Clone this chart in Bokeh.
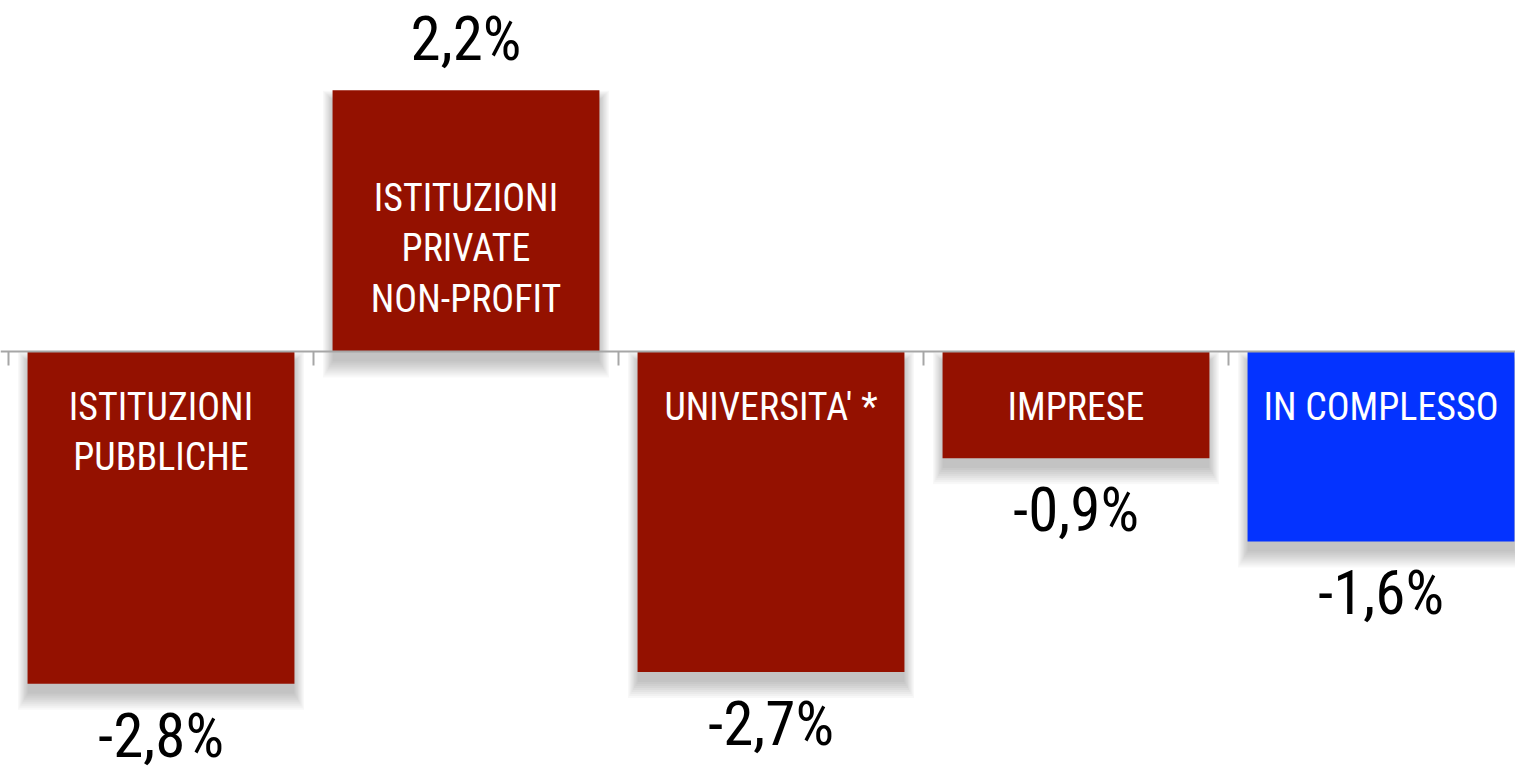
from bokeh.plotting import figure
from bokeh.models import Range1d, ColumnDataSource
from bokeh.core.properties import value
from bokeh.embed import file_html
from bokeh.resources import INLINE

# ---- data ----
categories = ["ISTITUZIONI\nPUBBLICHE", "ISTITUZIONI\nPRIVATE\nNON-PROFIT",
              "UNIVERSITA' *", "IMPRESE", "IN COMPLESSO"]
values = [-2.8, 2.2, -2.7, -0.9, -1.6]
value_labels = ["-2,8%", "2,2%", "-2,7%", "-0,9%", "-1,6%"]
bar_colors = ["#941100", "#941100", "#941100", "#941100", "#0433FF"]

W, H = 1515, 772
PXU_X, PXU_Y = 305.0, 118.7
X0, X1 = -8 / PXU_X, (W - 8) / PXU_X
Y0, Y1 = -(H - 351) / PXU_Y, 351 / PXU_Y
px_x = (X1 - X0) / W
px_y = (Y1 - Y0) / H

FONT = value("Roboto Condensed")

n = len(values)
xs = [i + 0.5 for i in range(n)]
bw = 0.875

p = figure(width=W, height=H, x_range=Range1d(X0, X1), y_range=Range1d(Y0, Y1),
           output_backend="svg", toolbar_location=None, min_border=0,
           outline_line_color=None, background_fill_color="white",
           border_fill_color="white")
p.axis.visible = False
p.grid.visible = False

# ---- soft drop shadows (mostly downward) ----
off = 10  # px downward
for k in range(9):
    e = 2 * k
    left = [x - bw / 2 - 0.6 * e * px_x for x in xs]
    right = [x + bw / 2 + 0.6 * e * px_x for x in xs]
    top = [max(v, 0) + (0.6 * e - off) * px_y for v in values]
    bottom = [min(v, 0) - (e + off) * px_y for v in values]
    p.quad(left=left, right=right, top=top, bottom=bottom,
           fill_color="black", fill_alpha=0.028, line_color=None)

# ---- bars ----
src = ColumnDataSource(dict(x=xs, top=[max(v, 0) for v in values],
                            bottom=[min(v, 0) for v in values],
                            color=bar_colors))
p.vbar(x="x", width=bw, top="top", bottom="bottom", fill_color="color",
       line_color=None, source=src)

# ---- zero axis line and ticks ----
p.segment(x0=[X0], y0=[0], x1=[X1], y1=[0], line_color="#a6a6a6", line_width=2)
tick_x = [float(i) for i in range(n + 1)]
p.segment(x0=tick_x, y0=[0] * len(tick_x), x1=tick_x,
          y1=[-14 * px_y] * len(tick_x), line_color="#a6a6a6", line_width=2)

# ---- value labels ----
pos = [i for i, v in enumerate(values) if v >= 0]
neg = [i for i, v in enumerate(values) if v < 0]
p.text(x=[xs[i] for i in pos], y=[values[i] for i in pos],
       text=[value_labels[i] for i in pos], y_offset=-51,
       text_align="center", text_baseline="middle", text_font=FONT,
       text_font_size="61px", text_color="black")
p.text(x=[xs[i] for i in neg], y=[values[i] for i in neg],
       text=[value_labels[i] for i in neg], y_offset=52,
       text_align="center", text_baseline="middle", text_font=FONT,
       text_font_size="61px", text_color="black")

# ---- category labels inside bars ----
p.text(x=[xs[i] for i in pos], y=[0] * len(pos),
       text=[categories[i] for i in pos], y_offset=-103,
       text_align="center", text_baseline="middle", text_font=FONT,
       text_font_size="38px", text_color="white", text_line_height=1.15)
p.text(x=[xs[i] for i in neg], y=[0] * len(neg),
       text=[categories[i] for i in neg], y_offset=33,
       text_align="center", text_baseline="top", text_font=FONT,
       text_font_size="38px", text_color="white", text_line_height=1.15)

open("out.html", "w").write(file_html(p, INLINE))
